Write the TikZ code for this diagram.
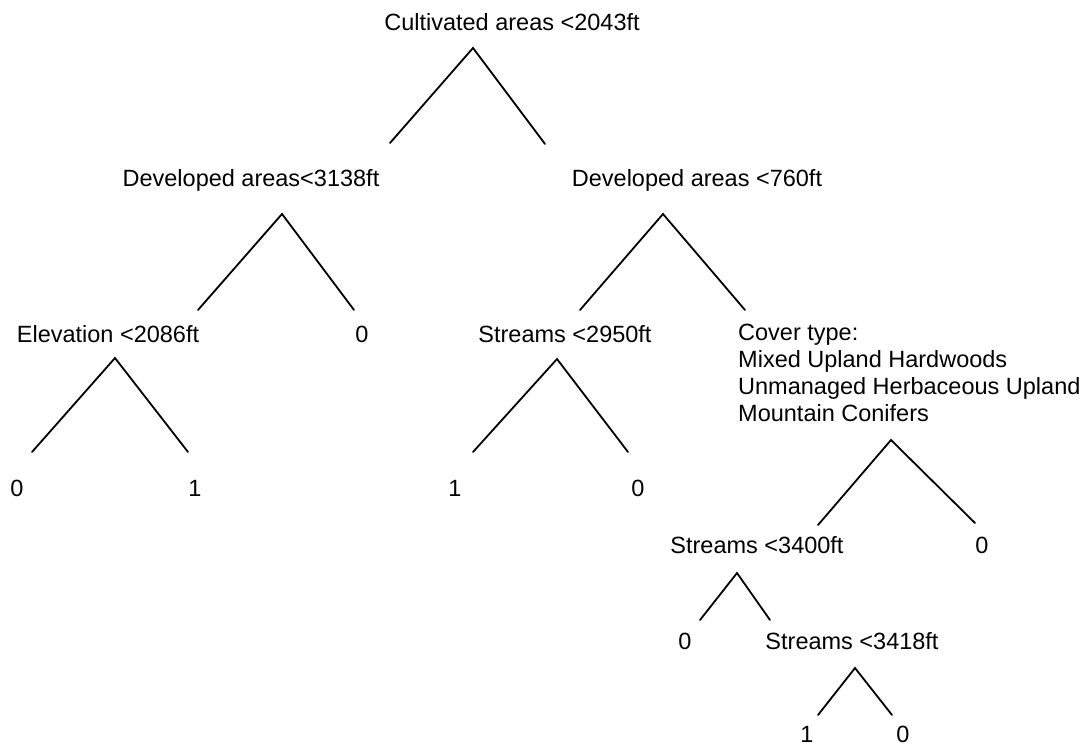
\documentclass[tikz,border=0pt]{standalone}
\usepackage{fontspec}
\setmainfont{Liberation Sans}
\begin{document}
\begin{tikzpicture}[x=1pt,y=-1pt,
  lbl/.style={inner sep=0pt, anchor=base, font=\fontsize{23.5}{27}\selectfont},
  branch/.style={line width=1.8pt, line join=miter, line cap=round}]
\useasboundingbox (0,0) rectangle (1087,747);

% split labels and leaves
\node[lbl] (root) at (512,30) {Cultivated areas <2043ft};
\node[lbl] (dev1) at (251,186) {Developed areas<3138ft};
\node[lbl] (dev2) at (697,186) {Developed areas <760ft};
\node[lbl] (elev) at (108,342) {Elevation <2086ft};
\node[lbl] (z1) at (362,342) {0};
\node[lbl] (str1) at (565,342) {Streams <2950ft};
\node[lbl, anchor=north west, align=left] (cover) at (738,324)
  {Cover type:\\Mixed Upland Hardwoods\\Unmanaged Herbaceous Upland\\Mountain Conifers};
\node[lbl] (l1) at (17,496) {0};
\node[lbl] (l2) at (195,496) {1};
\node[lbl] (l3) at (455,496) {1};
\node[lbl] (l4) at (638,496) {0};
\node[lbl] (str2) at (757,553) {Streams <3400ft};
\node[lbl] (z2) at (982,553) {0};
\node[lbl] (z3) at (685,649) {0};
\node[lbl] (str3) at (852,649) {Streams <3418ft};
\node[lbl] (l5) at (807,742) {1};
\node[lbl] (l6) at (903,742) {0};

% branch points: apex and two free ends of each split
\coordinate (root-a) at (473,48);  \coordinate (root-l) at (390,143); \coordinate (root-r) at (545,144);
\coordinate (dev1-a) at (282,214); \coordinate (dev1-l) at (198,310); \coordinate (dev1-r) at (354,310);
\coordinate (dev2-a) at (663,214); \coordinate (dev2-l) at (580,310); \coordinate (dev2-r) at (745,310);
\coordinate (elev-a) at (115,358); \coordinate (elev-l) at (32,452);  \coordinate (elev-r) at (188,452);
\coordinate (str1-a) at (557,359); \coordinate (str1-l) at (473,452); \coordinate (str1-r) at (628,452);
\coordinate (cover-a) at (891,440); \coordinate (cover-l) at (818,525); \coordinate (cover-r) at (975,523);
\coordinate (str2-a) at (737,573); \coordinate (str2-l) at (700,620); \coordinate (str2-r) at (770,620);
\coordinate (str3-a) at (855,668); \coordinate (str3-l) at (818,715); \coordinate (str3-r) at (892,715);

\foreach \s in {root,dev1,dev2,elev,str1,cover,str2,str3}
  \draw[branch] (\s-l) -- (\s-a) -- (\s-r);
\end{tikzpicture}
\end{document}
